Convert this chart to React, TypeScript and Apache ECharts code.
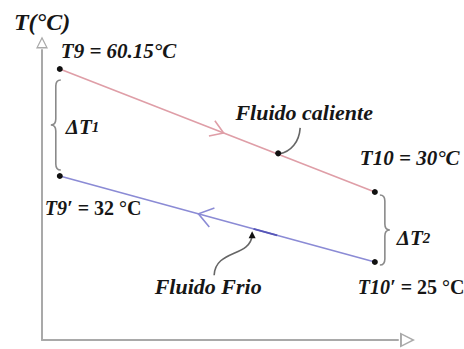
import React, { useEffect, useRef } from 'react';
import * as echarts from 'echarts';

// Position along the exchanger, % of its length (left end, right end)
const stations = [5, 93.5];

// Hot stream: enters at T9 (left), leaves at T10 (right)
const hotNames = ['T9', 'T10'];
const hotTemps = [60.15, 30];

// Cold stream, counter-flow: leaves at T9' (left), enters at T10' (right)
const coldNames = ['T9\u2032', 'T10\u2032'];
const coldTemps = [32, 25];

// Temperature differences at both ends, and the stream captions
const deltaNames = ['1', '2'];
const streamNames = ['Fluido caliente', 'Fluido Frio'];
const axisTitle = 'T(°C)';

const SERIF = "'Liberation Serif', 'DejaVu Serif', 'Times New Roman', serif";
const INK = '#161616';
const AXIS = '#a9a9a9';
const HOT = '#df9ea7';
const COLD = '#8b8bd5';
const BRACE = '#8a8a8a';

// Hollow arrow head used at the end of both axes
const HOLLOW_ARROW = 'path://M0,100 L50,0 L100,100 Z M17,87 L83,87 L50,22 Z';

// Label placement relative to each end point (left end, right end)
const hotLabelOffsets = [[1, -18], [-15, -34]];
const coldLabelOffsets = [[-15, 32], [-17, 25]];

const labelFont = {
  fontFamily: SERIF,
  fontWeight: 'bold' as const,
  color: INK,
};

export default function App() {
  const ref = useRef<HTMLDivElement>(null);

  useEffect(() => {
    const el = ref.current!;
    const chart = echarts.init(el, undefined, { renderer: 'svg' });

    const hotData = stations.map((x, i) => ({
      value: [x, hotTemps[i]],
      label: {
        offset: hotLabelOffsets[i],
        formatter: `{h|${hotNames[i]} = ${hotTemps[i]}°C}`,
      },
    }));
    const coldData = stations.map((x, i) => ({
      value: [x, coldTemps[i]],
      label: {
        offset: coldLabelOffsets[i],
        formatter: `{i|${coldNames[i]}}{u| = ${coldTemps[i]} °C}`,
      },
    }));

    const pointLabel = {
      show: true,
      position: 'inside' as const,
      align: 'left' as const,
      verticalAlign: 'middle' as const,
      rich: {
        h: { ...labelFont, fontSize: 21, fontStyle: 'italic' as const },
        i: { ...labelFont, fontSize: 20, fontStyle: 'italic' as const },
        u: { ...labelFont, fontSize: 20, fontStyle: 'normal' as const },
      },
    };

    chart.setOption({
      animation: false,
      backgroundColor: '#ffffff',
      grid: { left: 42, right: 66, top: 50, bottom: 9, containLabel: false },
      xAxis: {
        type: 'value',
        min: 0,
        max: 100,
        axisLine: {
          show: true,
          onZero: false,
          lineStyle: { color: AXIS, width: 2 },
          symbol: ['none', HOLLOW_ARROW],
          symbolSize: [15, 19],
          symbolOffset: [0, 9.5],
        },
        axisTick: { show: false },
        axisLabel: { show: false },
        splitLine: { show: false },
      },
      yAxis: [
        {
          // scale of the hot stream
          type: 'value',
          min: -6.27,
          max: 64.8,
          name: axisTitle,
          nameLocation: 'end',
          nameGap: 28,
          nameTextStyle: {
            fontFamily: SERIF,
            fontWeight: 'bold',
            fontStyle: 'italic',
            fontSize: 24,
            color: INK,
            align: 'center',
            verticalAlign: 'middle',
          },
          axisLine: {
            show: true,
            onZero: false,
            lineStyle: { color: AXIS, width: 2 },
            symbol: ['none', HOLLOW_ARROW],
            symbolSize: [12, 15],
            symbolOffset: [0, 7.5],
          },
          axisTick: { show: false },
          axisLabel: { show: false },
          splitLine: { show: false },
        },
        {
          // scale of the cold stream
          type: 'value',
          show: false,
          min: 18.65,
          max: 42.26,
          splitLine: { show: false },
        },
      ],
      series: [
        {
          name: streamNames[0],
          type: 'line',
          yAxisIndex: 0,
          data: hotData,
          lineStyle: { color: HOT, width: 1.6 },
          symbol: 'circle',
          symbolSize: 6,
          itemStyle: { color: '#111' },
          label: pointLabel,
          silent: true,
        },
        {
          name: streamNames[1],
          type: 'line',
          yAxisIndex: 1,
          data: coldData,
          lineStyle: { color: COLD, width: 1.6 },
          symbol: 'circle',
          symbolSize: 6,
          itemStyle: { color: '#111' },
          label: pointLabel,
          silent: true,
        },
      ],
    });

    // ---- annotations placed from the series' own pixel positions ----
    const px = (s: number, p: number[]) =>
      chart.convertToPixel({ seriesIndex: s }, p) as unknown as number[];
    const h0 = px(0, [stations[0], hotTemps[0]]);
    const h1 = px(0, [stations[1], hotTemps[1]]);
    const c0 = px(1, [stations[0], coldTemps[0]]);
    const c1 = px(1, [stations[1], coldTemps[1]]);

    const lerp = (a: number[], b: number[], t: number) => [
      a[0] + (b[0] - a[0]) * t,
      a[1] + (b[1] - a[1]) * t,
    ];
    const unit = (a: number[], b: number[]) => {
      const dx = b[0] - a[0];
      const dy = b[1] - a[1];
      const l = Math.hypot(dx, dy);
      return [dx / l, dy / l];
    };

    // open arrow head showing the flow direction
    const chevron = (apex: number[], dir: number[], len: number, deg: number, color: string) => {
      const back = [-dir[0], -dir[1]];
      const rot = (v: number[], a: number) => [
        v[0] * Math.cos(a) - v[1] * Math.sin(a),
        v[0] * Math.sin(a) + v[1] * Math.cos(a),
      ];
      const a = (deg * Math.PI) / 180;
      const r1 = rot(back, a);
      const r2 = rot(back, -a);
      return {
        type: 'polyline',
        shape: {
          points: [
            [apex[0] + r1[0] * len, apex[1] + r1[1] * len],
            apex,
            [apex[0] + r2[0] * len, apex[1] + r2[1] * len],
          ],
        },
        style: { stroke: color, fill: 'none', lineWidth: 1.6 },
        z: 5,
      };
    };

    const hotApex = lerp(h0, h1, 0.52);
    const coldApex = lerp(c1, c0, 0.56);

    // curly braces spanning the end temperature differences
    const lx = h0[0] - 4;
    const lt = h0[1] + 11;
    const lb = c0[1] - 6;
    const lm = (lt + lb) / 2;
    const braceLeft =
      `M${lx + 5} ${lt} Q${lx} ${lt} ${lx} ${lt + 6} L${lx} ${lm - 6} ` +
      `Q${lx} ${lm} ${lx - 5} ${lm} Q${lx} ${lm} ${lx} ${lm + 6} ` +
      `L${lx} ${lb - 6} Q${lx} ${lb} ${lx + 5} ${lb}`;

    const rx = h1[0] + 10;
    const rt = h1[1] + 3;
    const rb = c1[1] + 3;
    const rm = (rt + rb) / 2;
    const braceRight =
      `M${rx - 5} ${rt} Q${rx} ${rt} ${rx} ${rt + 6} L${rx} ${rm - 6} ` +
      `Q${rx} ${rm} ${rx + 5} ${rm} Q${rx} ${rm} ${rx} ${rm + 6} ` +
      `L${rx} ${rb - 6} Q${rx} ${rb} ${rx - 5} ${rb}`;

    echarts.graphic.registerShape('braceLeft', echarts.graphic.extendPath(braceLeft, {}));
    echarts.graphic.registerShape('braceRight', echarts.graphic.extendPath(braceRight, {}));

    // leader anchors on the two lines
    const hotAnchor = lerp(h0, h1, 0.69);
    const coldAnchor = lerp(c0, c1, 0.62);
    const coldMark = lerp(c0, c1, 0.615);
    const coldMarkEnd = lerp(c0, c1, 0.69);

    const deltaRich = {
      a: { fontFamily: SERIF, fontWeight: 'bold', fontStyle: 'italic', fontSize: 21, fill: INK },
      b: { fontFamily: SERIF, fontWeight: 'bold', fontStyle: 'italic', fontSize: 15, fill: INK },
    };
    const captionStyle = {
      fontFamily: SERIF,
      fontWeight: 'bold',
      fontStyle: 'italic',
      fontSize: 22,
      fill: INK,
      align: 'center',
      verticalAlign: 'middle',
    };

    chart.setOption({
      graphic: [
        chevron(hotApex, unit(h0, h1), 15, 33, HOT),
        chevron(coldApex, unit(c1, c0), 17, 35, COLD),
        {
          type: 'line',
          shape: { x1: coldMark[0], y1: coldMark[1], x2: coldMarkEnd[0], y2: coldMarkEnd[1] },
          style: { stroke: '#5656b8', lineWidth: 2 },
          z: 6,
        },
        { type: 'braceLeft', style: { fill: 'none', stroke: BRACE, lineWidth: 1.6 } },
        { type: 'braceRight', style: { fill: 'none', stroke: BRACE, lineWidth: 1.6 } },
        {
          type: 'text',
          x: lx + 10,
          y: lm + 2,
          style: {
            text: `{a|ΔT}{b|${deltaNames[0]}}`,
            rich: deltaRich,
            verticalAlign: 'middle',
          },
        },
        {
          type: 'text',
          x: rx + 12,
          y: rm + 8,
          style: {
            text: `{a|ΔT}{b|${deltaNames[1]}}`,
            rich: deltaRich,
            verticalAlign: 'middle',
          },
        },
        // hot stream leader and caption
        {
          type: 'bezierCurve',
          shape: {
            x1: hotAnchor[0] + 23,
            y1: hotAnchor[1] - 26,
            cpx1: hotAnchor[0] + 22,
            cpy1: hotAnchor[1] - 12,
            cpx2: hotAnchor[0] + 14,
            cpy2: hotAnchor[1] - 2,
            x2: hotAnchor[0] + 2,
            y2: hotAnchor[1],
          },
          style: { stroke: '#666', lineWidth: 1.6, fill: 'none' },
        },
        {
          type: 'circle',
          shape: { cx: hotAnchor[0] + 1, cy: hotAnchor[1] - 0.5, r: 3 },
          style: { fill: '#111' },
          z: 7,
        },
        {
          type: 'text',
          x: hotAnchor[0] + 27,
          y: hotAnchor[1] - 41,
          style: { text: streamNames[0], ...captionStyle },
        },
        // cold stream leader and caption
        {
          type: 'bezierCurve',
          shape: {
            x1: coldAnchor[0] - 3,
            y1: coldAnchor[1] + 6,
            cpx1: coldAnchor[0] - 5,
            cpy1: coldAnchor[1] + 28,
            cpx2: coldAnchor[0] - 40,
            cpy2: coldAnchor[1] + 20,
            x2: coldAnchor[0] - 41,
            y2: coldAnchor[1] + 46,
          },
          style: { stroke: '#666', lineWidth: 1.6, fill: 'none' },
        },
        {
          type: 'polygon',
          shape: {
            points: [
              [coldAnchor[0] - 3, coldAnchor[1] + 2],
              [coldAnchor[0] - 6.5, coldAnchor[1] + 9],
              [coldAnchor[0] + 0.5, coldAnchor[1] + 9],
            ],
          },
          style: { fill: '#111' },
          z: 7,
        },
        {
          type: 'text',
          x: coldAnchor[0] - 47,
          y: coldAnchor[1] + 57,
          style: { text: streamNames[1], ...captionStyle },
        },
      ],
    });

    return () => chart.dispose();
  }, []);

  return (
    <div
      ref={ref}
      style={{ position: 'fixed', left: 0, top: 0, width: 464, height: 349, background: '#fff' }}
    />
  );
}
